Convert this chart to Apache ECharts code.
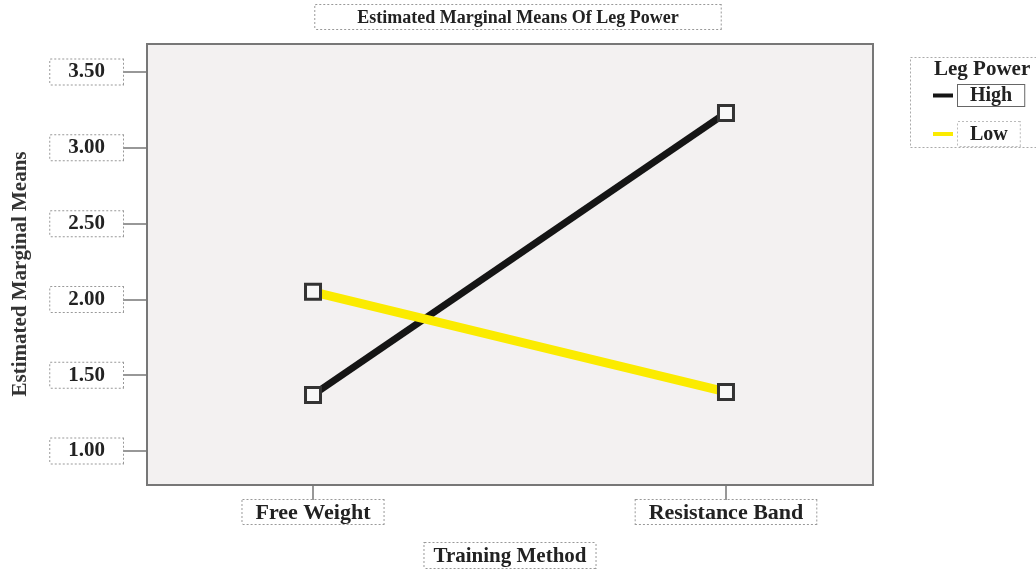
<!DOCTYPE html>
<html>
<head>
<meta charset="utf-8">
<script src="https://cdn.jsdelivr.net/npm/echarts@6/dist/echarts.min.js"></script>
<style>
  html, body { margin: 0; padding: 0; background: #fff; }
  #chart { width: 1036px; height: 571px; }
</style>
</head>
<body>
<div id="chart"></div>
<script>
// data
const methods = ['Free Weight', 'Resistance Band']
const highValues = [1.37, 3.23]
const lowValues = [2.05, 1.39]
const yTicks = [1.0, 1.5, 2.0, 2.5, 3.0, 3.5]

const serif = 'Liberation Serif'
const boxText = {
  fontFamily: serif,
  fontWeight: 'bold',
  fontSize: 21,
  color: '#222',
  backgroundColor: '#fff',
  borderColor: '#999',
  borderWidth: 1,
  borderType: 'dotted'
}

const chart = echarts.init(document.getElementById('chart'))

const option = {
  backgroundColor: '#fff',
  animation: false,
  title: [
    {
      text: '{t|Estimated Marginal Means Of Leg Power}',
      left: 'center',
      top: 5,
      padding: 0,
      textStyle: {
        rich: {
          t: Object.assign({}, boxText, { fontSize: 18, padding: [4, 42, 2, 42] })
        }
      }
    },
    {
      // legend heading
      text: 'Leg Power',
      left: 934,
      top: 59,
      padding: 0,
      textStyle: { fontFamily: serif, fontWeight: 'bold', fontSize: 21, color: '#222' }
    }
  ],
  graphic: [
    {
      // dotted frame round the legend
      type: 'rect',
      shape: { x: 910.5, y: 57.5, width: 140, height: 90 },
      style: { fill: 'none', stroke: '#aaa', lineWidth: 1, lineDash: [2, 2] },
      z: -1
    }
  ],
  legend: {
    orient: 'vertical',
    left: 928,
    top: 79,
    itemWidth: 20,
    itemHeight: 4,
    itemGap: 14,
    icon: 'rect',
    formatter: name => (name === 'High' ? '{h|High}' : '{l|Low}'),
    textStyle: {
      rich: {
        h: Object.assign({}, boxText, {
          fontSize: 20,
          borderColor: '#666',
          borderType: 'solid',
          padding: [1, 12, 0, 12]
        }),
        l: Object.assign({}, boxText, {
          fontSize: 20,
          borderColor: '#bbb',
          padding: [3, 12, 1, 12]
        })
      }
    },
    data: [
      { name: 'High', itemStyle: { color: '#151515', borderWidth: 0 } },
      { name: 'Low', itemStyle: { color: '#fbeb00', borderWidth: 0 } }
    ]
  },
  grid: {
    left: 147,
    right: 163,
    top: 44,
    bottom: 86,
    outerBoundsMode: 'none',
    containLabel: false,
    show: true,
    backgroundColor: '#f3f1f1',
    borderColor: '#777',
    borderWidth: 2
  },
  xAxis: {
    type: 'value',
    min: -0.402,
    max: 1.356,
    name: 'Training Method',
    nameLocation: 'middle',
    nameGap: 58,
    nameTextStyle: Object.assign({}, boxText, { padding: [3, 9, 1, 9] }),
    splitLine: { show: false },
    axisLine: { show: true, onZero: false, lineStyle: { color: '#777', width: 2 } },
    axisTick: {
      show: true,
      length: 15,
      customValues: [0, 1],
      lineStyle: { color: '#777', width: 1.5 }
    },
    axisLabel: Object.assign({}, boxText, {
      fontSize: 22,
      customValues: [0, 1],
      margin: 15,
      padding: [2, 13, 0, 13],
      formatter: v => methods[Math.round(v)]
    })
  },
  yAxis: {
    type: 'value',
    min: 0.776,
    max: 3.685,
    name: 'Estimated Marginal Means',
    nameLocation: 'middle',
    nameGap: 116,
    nameTextStyle: {
      fontFamily: serif,
      fontWeight: 'bold',
      fontSize: 21,
      color: '#333',
      padding: [0, 19, 0, 0]
    },
    splitLine: { show: false },
    axisLine: { show: true, onZero: false, lineStyle: { color: '#777', width: 2 } },
    axisTick: {
      show: true,
      length: 24,
      customValues: yTicks,
      lineStyle: { color: '#777', width: 1.5 }
    },
    axisLabel: Object.assign({}, boxText, {
      customValues: yTicks,
      margin: 24,
      padding: [3, 18, 1, 18],
      formatter: v => v.toFixed(2)
    })
  },
  series: [
    {
      name: 'High',
      type: 'line',
      data: highValues.map((v, i) => [i, v]),
      symbol: 'rect',
      symbolSize: 15,
      lineStyle: { color: '#151515', width: 7 },
      itemStyle: { color: '#f8f8f8', borderColor: '#333', borderWidth: 3 },
      z: 2
    },
    {
      name: 'Low',
      type: 'line',
      data: lowValues.map((v, i) => [i, v]),
      symbol: 'rect',
      symbolSize: 15,
      lineStyle: { color: '#fbeb00', width: 9 },
      itemStyle: { color: '#f8f8f8', borderColor: '#333', borderWidth: 3 },
      z: 3
    }
  ]
}

chart.setOption(option)
</script>
</body>
</html>
